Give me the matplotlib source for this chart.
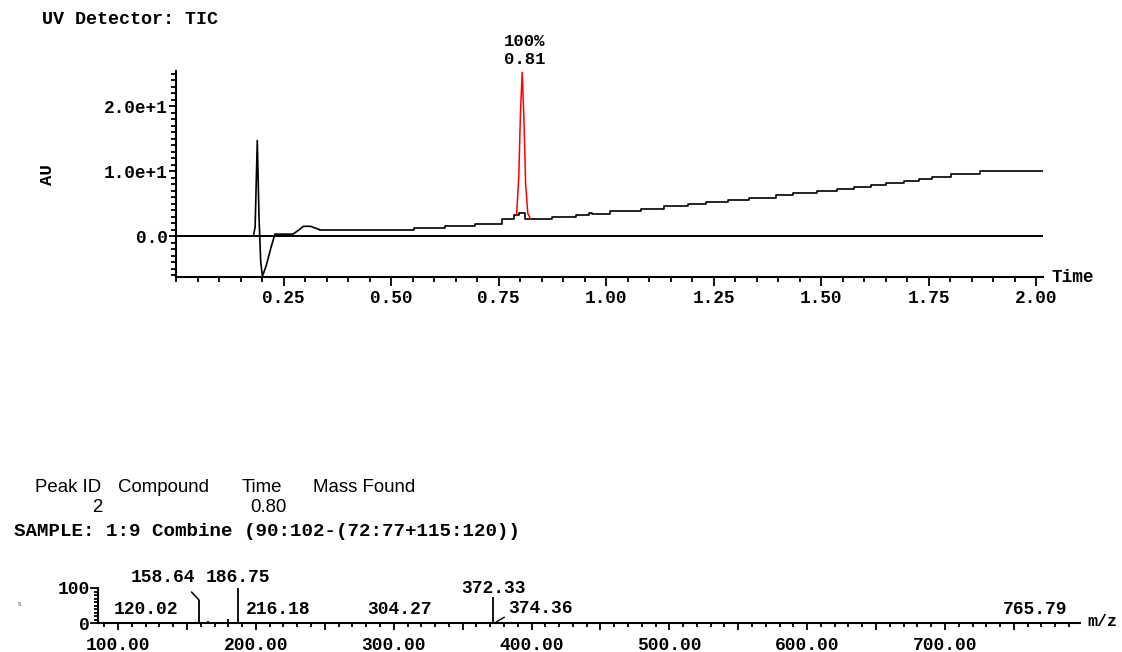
import matplotlib
matplotlib.use("Agg")
import matplotlib.pyplot as plt
from matplotlib.ticker import MultipleLocator, FixedLocator, FuncFormatter

# --- UV trace (TIC), time in minutes vs AU ---
uv_time = [0.0, 0.180, 0.184, 0.189, 0.193, 0.197, 0.201, 0.210, 0.222, 0.230,
           0.272, 0.285, 0.296, 0.313, 0.325, 0.334]
uv_au = [0.0, 0.0, 1.4, 14.7, 3.0, -4.0, -6.2, -4.5, -1.5, 0.3,
         0.3, 0.9, 1.5, 1.5, 1.2, 1.0]

# stair-stepped baseline drift after 0.33 min
step_time = [0.334, 0.554, 0.625, 0.695, 0.757, 0.787, 0.797, 0.812, 0.875, 0.931,
             0.960, 0.968, 1.009, 1.082, 1.134, 1.190, 1.233, 1.284, 1.332, 1.396,
             1.435, 1.491, 1.538, 1.577, 1.616, 1.650, 1.693, 1.728, 1.758, 1.801,
             1.870, 2.016]
step_au = [1.0, 1.3, 1.6, 1.9, 2.6, 3.2, 3.5, 2.6, 2.9, 3.3,
           3.6, 3.4, 3.8, 4.2, 4.6, 5.0, 5.3, 5.6, 5.9, 6.3,
           6.6, 6.9, 7.3, 7.6, 7.9, 8.2, 8.5, 8.8, 9.1, 9.6,
           10.0, 10.0]

# integrated peak (red)
peak_time = [0.792, 0.797, 0.801, 0.805, 0.809, 0.813, 0.818, 0.824]
peak_au = [3.3, 9.0, 19.0, 25.2, 18.0, 8.0, 3.5, 2.7]
peak_rt = 0.81
peak_pct = "100%"

time_ticks = [0.25, 0.50, 0.75, 1.00, 1.25, 1.50, 1.75, 2.00]

# --- mass spectrum ---
ms_mz = [120.02, 158.64, 165.0, 180.0, 186.75, 206.5, 216.18, 304.27, 372.33, 374.36, 765.79]
ms_int = [4, 66, 6, 12, 100, 4, 3, 3, 74, 3, 3]
lab_mz = [120.02, 186.75, 216.18, 304.27, 372.33, 765.79]
lab_up = [10, 33, 10, 10, 25, 10]   # label height above baseline, points

mono = ["Liberation Mono", "DejaVu Sans Mono"]
plt.rcParams["font.family"] = mono
plt.rcParams["font.weight"] = "bold"
plt.rcParams["font.size"] = 13

fig = plt.figure(figsize=(11.22, 6.52), dpi=100)

# ---------------- chromatogram ----------------
ax = fig.add_axes([176 / 1122, 1 - 277 / 652, 867 / 1122, 206 / 652])
ax.plot(uv_time, uv_au, color="black", lw=1.2)
ax.plot(step_time, step_au, color="black", lw=1.2, drawstyle="steps-post")
ax.plot(peak_time, peak_au, color="red", lw=1.1)
ax.axhline(0, color="black", lw=1.4)
ax.set_xlim(0, 2.016)
ax.set_ylim(-6.3, 25.4)
for s in ["top", "right"]:
    ax.spines[s].set_visible(False)
for s in ["left", "bottom"]:
    ax.spines[s].set_linewidth(1.5)
ax.xaxis.set_major_locator(FixedLocator(time_ticks))
ax.xaxis.set_minor_locator(MultipleLocator(0.05))
ax.xaxis.set_major_formatter(FuncFormatter(lambda v, p: "%.2f" % v))
ax.yaxis.set_major_locator(MultipleLocator(10))
ax.yaxis.set_minor_locator(MultipleLocator(1))
ax.yaxis.set_major_formatter(FuncFormatter(lambda v, p: "0.0" if abs(v) < 1e-9 else "%.1fe+1" % (v / 10)))
ax.tick_params(axis="x", which="major", length=6.5, width=1.3, pad=3, labelsize=12.8)
ax.tick_params(axis="x", which="minor", length=3.6, width=1.3)
ax.tick_params(axis="y", which="major", length=5, width=1.3, pad=1, labelsize=12.8)
ax.tick_params(axis="y", which="minor", length=3.5, width=1.3)

ax.text(peak_rt, 27.1, "%.2f" % peak_rt, ha="center", va="center", fontsize=12.5, clip_on=False)
ax.text(peak_rt, 29.9, peak_pct, ha="center", va="center", fontsize=12.5, clip_on=False)

fig.text(42 / 1122, 1 - 19 / 652, "UV Detector: TIC", ha="left", va="center", fontsize=13.2)
fig.text(47 / 1122, 1 - 175 / 652, "AU", ha="center", va="center", rotation=90, fontsize=12.5)
fig.text(1052 / 1122, 1 - 277 / 652, "Time", ha="left", va="center", fontsize=12.8)

# ---------------- peak table ----------------
sans = ["Liberation Sans", "DejaVu Sans"]
hy = 1 - 487 / 652
fig.text(35 / 1122, hy, "Peak ID", family=sans, weight="normal", fontsize=13.4, va="center")
fig.text(118 / 1122, hy, "Compound", family=sans, weight="normal", fontsize=13.4, va="center")
fig.text(242 / 1122, hy, "Time", family=sans, weight="normal", fontsize=13.4, va="center")
fig.text(313 / 1122, hy, "Mass Found", family=sans, weight="normal", fontsize=13.4, va="center")
ry = 1 - 507 / 652
fig.text(97 / 1122, ry, "2", family=sans, weight="normal", fontsize=13.4, va="center", ha="center")
fig.text(268 / 1122, ry, "0.80", family=sans, weight="normal", fontsize=13.4, va="center", ha="center")
fig.text(14 / 1122, 1 - 532 / 652, "SAMPLE: 1:9 Combine (90:102-(72:77+115:120))",
         ha="left", va="center", fontsize=13.8)

# ---------------- mass spectrum ----------------
ax2 = fig.add_axes([98 / 1122, 1 - 623 / 652, 982 / 1122, 35 / 652])
ax2.vlines(ms_mz, 0, ms_int, color="black", lw=1.3)
ax2.set_xlim(85.4, 798)
ax2.set_ylim(0, 100)
for s in ["top", "right"]:
    ax2.spines[s].set_visible(False)
for s in ["left", "bottom"]:
    ax2.spines[s].set_linewidth(1.5)
ax2.xaxis.set_major_locator(MultipleLocator(50))
ax2.xaxis.set_minor_locator(MultipleLocator(10))
ax2.xaxis.set_major_formatter(FuncFormatter(
    lambda v, p: "%.2f" % v if abs(v % 100) < 1e-6 and v < 799 else ""))
ax2.yaxis.set_major_locator(MultipleLocator(100))
ax2.yaxis.set_minor_locator(MultipleLocator(10))
ax2.tick_params(axis="x", which="major", length=5, width=1.3, pad=5, labelsize=13)
ax2.tick_params(axis="x", which="minor", length=2.6, width=1.3)
ax2.tick_params(axis="y", which="major", length=5.5, width=1.3, pad=0.5, labelsize=13)
ax2.tick_params(axis="y", which="minor", length=3, width=1.3)

for mz, up in zip(lab_mz, lab_up):
    ax2.annotate("%.2f" % mz, xy=(mz, 0), xytext=(0, up), textcoords="offset points",
                 ha="center", va="center", fontsize=13, annotation_clip=False)

# labels with leader lines
ax2.annotate("158.64", xy=(158.64, 66), xytext=(-26, 16), textcoords="offset points",
             ha="center", va="center", fontsize=13, annotation_clip=False,
             arrowprops=dict(arrowstyle="-", color="black", lw=1.1, relpos=(0.86, 0),
                             shrinkA=3, shrinkB=0))
ax2.annotate("374.36", xy=(374.36, 3), xytext=(32, 10), textcoords="offset points",
             ha="center", va="center", fontsize=13, annotation_clip=False,
             arrowprops=dict(arrowstyle="-", color="black", lw=1.0, relpos=(0, 0.1),
                             shrinkA=1, shrinkB=0))

fig.text(1087 / 1122, 1 - 622 / 652, "m/z", ha="left", va="center", fontsize=12)
fig.text(20 / 1122, 1 - 605 / 652, "%", ha="center", va="center", fontsize=4, color="#555555")

fig.savefig("out.png", dpi=100)
